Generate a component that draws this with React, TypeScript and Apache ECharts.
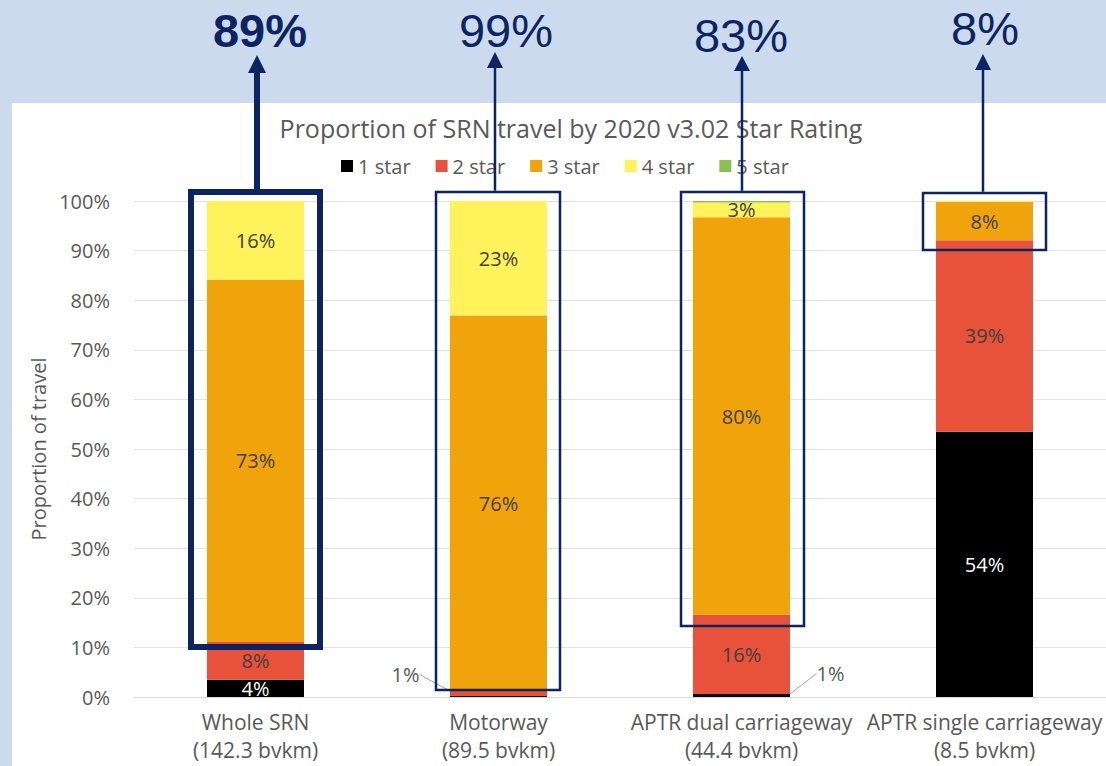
import React, { useEffect, useRef } from 'react';
import * as echarts from 'echarts';

const categories = [
  'Whole SRN\n(142.3 bvkm)',
  'Motorway\n(89.5 bvkm)',
  'APTR dual carriageway\n(44.4 bvkm)',
  'APTR single carriageway\n(8.5 bvkm)',
];
const seriesNames = ['1 star', '2 star', '3 star', '4 star', '5 star'];
const star1 = [3.5, 0.2, 0.6, 53.5];
const star2 = [7.6, 1.0, 16.0, 38.6];
const star3 = [73.0, 75.7, 80.1, 7.7];
const star4 = [15.9, 23.1, 3.0, 0.2];
const star5 = [0, 0, 0.3, 0];
const headlines = ['89%', '99%', '83%', '8%'];

const seriesValues = [star1, star2, star3, star4, star5];
const colors = ['#000000', '#e8523a', '#f0a30a', '#fff25a', '#8cc152'];
const NAVY = '#0c2562';
const FONT = 'Open Sans';

// labels moved outside with a leader line: [seriesIndex, dataIndex, dx, dy]
const movedLabels: [number, number, number, number][] = [
  [1, 1, -93, -19],
  [0, 2, 89, -22],
];

export default function App() {
  const ref = useRef<HTMLDivElement>(null);
  useEffect(() => {
    if (!ref.current) return;
    const chart = echarts.init(ref.current, null, { renderer: 'svg' });

    const series = seriesValues.map((vals, si) => ({
      name: seriesNames[si],
      type: 'bar',
      stack: 'total',
      barWidth: 97,
      itemStyle: { color: colors[si] },
      label: {
        show: true,
        position: 'inside',
        color: si === 0 ? '#ffffff' : '#404040',
        fontFamily: FONT,
        fontSize: 20,
        formatter: (p: any) => Math.round(p.value) + '%',
      },
      labelLayout: (p: any) => {
        const m = movedLabels.find((x) => x[0] === si && x[1] === p.dataIndex);
        return m ? { dx: m[2], dy: m[3] } : {};
      },
      data: vals.map((v, di) => {
        const moved = movedLabels.find((x) => x[0] === si && x[1] === di);
        if (moved) {
          return {
            value: v,
            label: { show: true, color: '#595959' },
            labelLine: { show: true, lineStyle: { color: '#a6a6a6', width: 1 } },
          };
        }
        return { value: v, label: { show: v >= 2.5 } };
      }),
    }));

    const headX = [260, 506, 741, 985];
    const headY = [30.5, 30.5, 35, 28.5];
    const boxes = [
      { x: 191, y: 192, w: 129, h: 455, lw: 6 },
      { x: 436, y: 192, w: 124, h: 498, lw: 2.5 },
      { x: 681, y: 192, w: 123, h: 434, lw: 2.5 },
      { x: 923, y: 193, w: 123, h: 57, lw: 2.5 },
    ];
    const arrows = [
      { x: 257, tip: 55, base: 73, hw: 9, lw: 6 },
      { x: 495, tip: 52, base: 68, hw: 8, lw: 2.5 },
      { x: 742, tip: 56, base: 71, hw: 8, lw: 2.5 },
      { x: 983, tip: 54, base: 70, hw: 8, lw: 2.5 },
    ];

    const graphic: any[] = [
      {
        type: 'rect',
        z: -10,
        shape: { x: 12, y: 103, width: 1200, height: 700 },
        style: { fill: '#ffffff' },
      },
    ];
    headlines.forEach((t, i) => {
      graphic.push({
        type: 'text',
        z: 100,
        x: headX[i],
        y: headY[i],
        style: {
          text: t,
          fill: NAVY,
          font: `${i === 0 ? 'bold ' : ''}47px "Liberation Sans", Arial, sans-serif`,
          textAlign: 'center',
          textVerticalAlign: 'middle',
        },
      });
    });
    boxes.forEach((b) => {
      graphic.push({
        type: 'rect',
        z: 100,
        shape: { x: b.x, y: b.y, width: b.w, height: b.h },
        style: { fill: 'none', stroke: NAVY, lineWidth: b.lw },
      });
    });
    arrows.forEach((a, i) => {
      graphic.push({
        type: 'line',
        z: 100,
        shape: { x1: a.x, y1: boxes[i].y - boxes[i].lw / 2, x2: a.x, y2: a.base - 1 },
        style: { stroke: NAVY, lineWidth: a.lw },
      });
      graphic.push({
        type: 'polygon',
        z: 100,
        shape: { points: [[a.x, a.tip], [a.x - a.hw, a.base], [a.x + a.hw, a.base]] },
        style: { fill: NAVY },
      });
    });

    chart.setOption({
      animation: false,
      backgroundColor: '#cbdaec',
      title: {
        text: 'Proportion of SRN travel by 2020 v3.02 Star Rating',
        left: 566,
        top: 110,
        textAlign: 'center',
        textStyle: { fontFamily: FONT, fontSize: 25, fontWeight: 'normal', color: '#595959' },
      },
      legend: {
        data: seriesNames,
        left: 336,
        top: 151,
        icon: 'rect',
        itemWidth: 12,
        itemHeight: 12,
        itemGap: 25,
        textStyle: { fontFamily: FONT, fontSize: 20, color: '#595959' },
      },
      grid: { left: 134, right: -2, top: 201, bottom: 69, containLabel: false },
      xAxis: {
        type: 'category',
        data: categories,
        axisTick: { show: false },
        axisLine: { lineStyle: { color: '#d9d9d9' } },
        axisLabel: {
          fontFamily: FONT,
          fontSize: 21,
          lineHeight: 28,
          color: '#595959',
          margin: 11,
          interval: 0,
        },
      },
      yAxis: {
        type: 'value',
        min: 0,
        max: 100,
        interval: 10,
        name: 'Proportion of travel',
        nameLocation: 'middle',
        nameGap: 84,
        nameRotate: 90,
        nameTextStyle: { fontFamily: FONT, fontSize: 20, color: '#595959' },
        axisLabel: {
          formatter: '{value}%',
          fontFamily: FONT,
          fontSize: 20,
          color: '#595959',
          margin: 24,
        },
        axisLine: { show: false },
        axisTick: { show: false },
        splitLine: { lineStyle: { color: '#e3e3e3' } },
      },
      graphic,
      series,
    });
    return () => chart.dispose();
  }, []);

  return (
    <div
      ref={ref}
      style={{ position: 'fixed', left: 0, top: 0, width: 1106, height: 766 }}
    />
  );
}
